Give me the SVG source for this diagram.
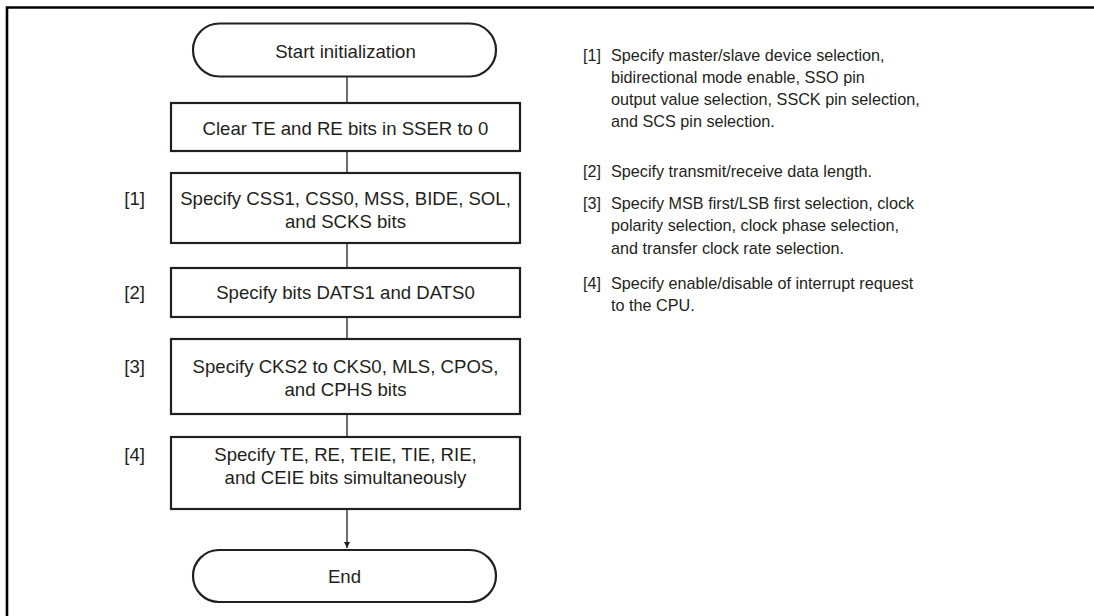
<svg xmlns="http://www.w3.org/2000/svg" width="1094" height="616" viewBox="0 0 1094 616">
<defs>
<style>
.frame{fill:none;stroke:#000;stroke-width:2.6}
.box{fill:#fff;stroke:#231f20;stroke-width:2.2}
.t{font-family:"Liberation Sans",Arial,sans-serif;font-size:18.6px;fill:#231f20;text-anchor:middle}
.lbl{font-family:"Liberation Sans",Arial,sans-serif;font-size:18.6px;fill:#231f20;text-anchor:end}
.note{font-family:"Liberation Sans",Arial,sans-serif;font-size:16.2px;fill:#231f20}
.conn{stroke:#231f20;stroke-width:1.3;fill:none}
</style>
<marker id="arr" viewBox="0 0 10 10" refX="10" refY="5" markerWidth="6" markerHeight="10" markerUnits="userSpaceOnUse" orient="auto">
<path d="M0,0 L10,5 L0,10 z" fill="#231f20"/>
</marker>
</defs>
<rect width="1094" height="616" fill="#fff"/>
<path class="frame" d="M7,620 V7.5 H1100"/>

<g id="connectors">
<line class="conn" x1="347" y1="77" x2="347" y2="103"/>
<line class="conn" x1="347" y1="151" x2="347" y2="173"/>
<line class="conn" x1="347" y1="243" x2="347" y2="268"/>
<line class="conn" x1="347" y1="317" x2="347" y2="339"/>
<line class="conn" x1="347" y1="414" x2="347" y2="437"/>
<line class="conn" x1="347" y1="509" x2="347" y2="548" marker-end="url(#arr)"/>
</g>

<g id="start">
<rect class="box" x="193" y="23.5" width="303" height="53" rx="26.5" ry="26.5"/>
<text class="t" x="345.5" y="58">Start initialization</text>
</g>

<g id="clear">
<rect class="box" x="171" y="103" width="349" height="48"/>
<text class="t" x="345.5" y="135">Clear TE and RE bits in SSER to 0</text>
</g>

<g id="step1">
<text class="lbl" x="145" y="205">[1]</text>
<rect class="box" x="171" y="173" width="349" height="70"/>
<text class="t" x="345.5" y="205">Specify CSS1, CSS0, MSS, BIDE, SOL,</text>
<text class="t" x="345.5" y="228">and SCKS bits</text>
</g>

<g id="step2">
<text class="lbl" x="145" y="299">[2]</text>
<rect class="box" x="171" y="268" width="349" height="49"/>
<text class="t" x="345.5" y="299">Specify bits DATS1 and DATS0</text>
</g>

<g id="step3">
<text class="lbl" x="145" y="373">[3]</text>
<rect class="box" x="171" y="339" width="349" height="75"/>
<text class="t" x="345.5" y="373">Specify CKS2 to CKS0, MLS, CPOS,</text>
<text class="t" x="345.5" y="396">and CPHS bits</text>
</g>

<g id="step4">
<text class="lbl" x="145" y="461">[4]</text>
<rect class="box" x="171" y="437" width="349" height="72"/>
<text class="t" x="345.5" y="461">Specify TE, RE, TEIE, TIE, RIE,</text>
<text class="t" x="345.5" y="484">and CEIE bits simultaneously</text>
</g>

<g id="end">
<rect class="box" x="193" y="550" width="303" height="52" rx="26" ry="26"/>
<text class="t" x="344.5" y="583">End</text>
</g>

<g id="notes">
<text class="note" x="583" y="61">[1]</text>
<text class="note" x="611" y="61">Specify master/slave device selection,</text>
<text class="note" x="611" y="83">bidirectional mode enable, SSO pin</text>
<text class="note" x="611" y="105">output value selection, SSCK pin selection,</text>
<text class="note" x="611" y="127">and SCS pin selection.</text>
<text class="note" x="583" y="177">[2]</text>
<text class="note" x="611" y="177">Specify transmit/receive data length.</text>
<text class="note" x="583" y="209">[3]</text>
<text class="note" x="611" y="209">Specify MSB first/LSB first selection, clock</text>
<text class="note" x="611" y="231">polarity selection, clock phase selection,</text>
<text class="note" x="611" y="254">and transfer clock rate selection.</text>
<text class="note" x="583" y="289">[4]</text>
<text class="note" x="611" y="289">Specify enable/disable of interrupt request</text>
<text class="note" x="611" y="311">to the CPU.</text>
</g>
</svg>
